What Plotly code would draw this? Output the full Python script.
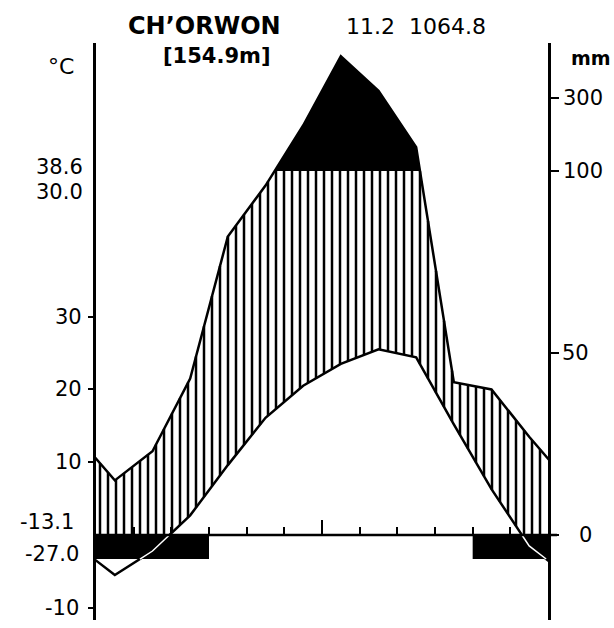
import numpy as np
import plotly.graph_objects as go

# ---------------- data ----------------
months = ["Jan", "Feb", "Mar", "Apr", "May", "Jun",
          "Jul", "Aug", "Sep", "Oct", "Nov", "Dec"]
temp_c = [-5.5, -2.2, 2.7, 9.6, 16.1, 20.5, 23.5, 25.5, 24.4, 15.2, 6.3, -1.5]
precip_mm = [15, 23, 43, 82, 96, 225, 415, 320, 165, 42, 40, 27]
frost_months = ["Jan", "Feb", "Mar", "Nov", "Dec"]
temp_ticks = [30, 20, 10, -10]
temp_tick_labels = ["30", "20", "10", "-10"]
precip_ticks = [0, 50, 100, 300]
precip_tick_labels = ["0", "50", "100", "300"]
station = "CH\u2019ORWON"
elevation = "[154.9m]"
mean_temp = "11.2"
annual_precip = "1064.8"
extremes_high = ["38.6", "30.0"]
extremes_low = ["-13.1", "-27.0"]

# ---------------- layout geometry / style ----------------
W, H = 614, 628
L_PX, R_PX, T_PX, B_PX = 96, 548, 43, 620
ZERO_PX = 535
PX_PER_UNIT = 3.64
YMAX = (ZERO_PX - T_PX) / PX_PER_UNIT
YMIN = -(B_PX - ZERO_PX) / PX_PER_UNIT
FROST_DEPTH = 6.6
HATCH_STEP = 8.0 / ((R_PX - L_PX) / 12.0)   # ~8 px between hatch lines
FONT = "DejaVu Sans"


def to_units(p):
    return p if p <= 100 else 100 + (p - 100) / 10.0


def px_x(px):
    return (px - L_PX) / (R_PX - L_PX)


def px_y(py):
    return (B_PX - py) / (B_PX - T_PX)


def clamp_line(xs, ys, lo=float("-inf"), hi=float("inf")):
    ox, oy = [], []
    for i in range(len(xs)):
        if i > 0:
            x0, y0, x1, y1 = xs[i - 1], ys[i - 1], xs[i], ys[i]
            cuts = []
            for b in (lo, hi):
                if y1 != y0 and abs(b) != float("inf"):
                    t = (b - y0) / (y1 - y0)
                    if 0 < t < 1:
                        cuts.append((t, b))
            for t, b in sorted(cuts):
                ox.append(x0 + t * (x1 - x0))
                oy.append(b)
        ox.append(xs[i])
        oy.append(min(max(ys[i], lo), hi))
    return ox, oy


def band_segments(xs, ys, lo, hi):
    ox, oy = [], []
    for i in range(len(xs)):
        if i > 0:
            x0, y0, x1, y1 = xs[i - 1], ys[i - 1], xs[i], ys[i]
            cuts = []
            for b in (lo, hi):
                if y1 != y0:
                    t = (b - y0) / (y1 - y0)
                    if 0 < t < 1:
                        cuts.append((t, b))
            for t, b in sorted(cuts):
                ox.append(x0 + t * (x1 - x0))
                oy.append(b)
        if lo <= ys[i] <= hi:
            ox.append(xs[i]); oy.append(ys[i])
        else:
            ox.append(None); oy.append(None)
    return ox, oy


n = len(months)
mx = [i + 0.5 for i in range(n)]
# wrap Dec before Jan and Jan after Dec so the curves reach both frames
xs = [mx[0] - 1] + mx + [mx[-1] + 1]
t_units = [2 * t for t in temp_c]
t_units = [t_units[-1]] + t_units + [t_units[0]]
p_units = [to_units(p) for p in precip_mm]
p_units = [p_units[-1]] + p_units + [p_units[0]]

fig = go.Figure()

# humid area: vertical hatch between max(temp,0) and min(precip,100)
lx, ly = clamp_line(xs, t_units, lo=0)
ux, uy = clamp_line(xs, p_units, hi=100)
hx, hy = [], []
for hxv in np.arange(HATCH_STEP / 2, n, HATCH_STEP):
    lo_v = float(np.interp(hxv, lx, ly))
    up_v = float(np.interp(hxv, ux, uy))
    if up_v > lo_v:
        hx += [hxv, hxv, None]
        hy += [lo_v, up_v, None]
fig.add_trace(go.Scatter(x=hx, y=hy, mode="lines", connectgaps=False,
                         line=dict(color="black", width=2.5),
                         hoverinfo="skip", showlegend=False))

# perhumid (black) area above 100 mm
fig.add_trace(go.Scatter(x=xs, y=[100] * len(xs), mode="lines", line=dict(width=0),
                         hoverinfo="skip", showlegend=False))
bx, by = clamp_line(xs, p_units, lo=100)
fig.add_trace(go.Scatter(x=bx, y=by, mode="lines", line=dict(width=0),
                         fill="tonexty", fillcolor="black",
                         hoverinfo="skip", showlegend=False))

# temperature curve
fig.add_trace(go.Scatter(x=xs, y=t_units, mode="lines",
                         line=dict(color="black", width=2.5),
                         hoverinfo="skip", showlegend=False))
wx, wy = band_segments(xs, t_units, -FROST_DEPTH, 0)
fig.add_trace(go.Scatter(x=wx, y=wy, mode="lines", connectgaps=False,
                         line=dict(color="white", width=1.5),
                         hoverinfo="skip", showlegend=False))

# precipitation curve (on right axis)
fig.add_trace(go.Scatter(x=xs, y=p_units, mode="lines", yaxis="y2",
                         line=dict(color="black", width=2.5),
                         hoverinfo="skip", showlegend=False))

# frost bars: merge consecutive frost months into one block
shapes = []
idx = sorted(months.index(m) for m in frost_months)
groups = []
for i in idx:
    if groups and groups[-1][1] == i:
        groups[-1][1] = i + 1
    else:
        groups.append([i, i + 1])
for a, b in groups:
    shapes.append(dict(type="rect", xref="x", yref="y", x0=a, x1=b,
                       y0=-FROST_DEPTH, y1=0, fillcolor="black",
                       line=dict(width=0), layer="below"))
shapes.append(dict(type="line", xref="paper", yref="y", x0=0, x1=px_x(557),
                   y0=0, y1=0, line=dict(color="black", width=2.5), layer="above"))

ann = []


def add_text(text, x, y, size, xanchor="center", bold=False, xref="paper", yref="paper"):
    ann.append(dict(text=("<b>%s</b>" % text) if bold else text,
                    x=x, y=y, xref=xref, yref=yref, xanchor=xanchor,
                    yanchor="middle", showarrow=False,
                    font=dict(family=FONT, size=size, color="black")))


add_text(station, px_x(204), px_y(26), 24, bold=True)
add_text(elevation, px_x(217), px_y(56), 21, bold=True)
add_text(mean_temp + "\u00a0\u00a0" + annual_precip, px_x(416), px_y(26), 22)
add_text("\u00b0C", px_x(61), px_y(66), 22)
add_text("mm", px_x(591), px_y(58), 19, bold=True)
add_text(extremes_high[0], px_x(85), px_y(167), 21, xanchor="right")
add_text(extremes_high[1], px_x(85), px_y(192), 21, xanchor="right")
add_text(extremes_low[0], px_x(76), px_y(522), 21, xanchor="right")
add_text(extremes_low[1], px_x(81), px_y(554), 21, xanchor="right")
for t, lab in zip(temp_ticks, temp_tick_labels):
    add_text(lab, px_x(84 if t > 0 else 81), 2 * t, 21, xanchor="right", yref="y")
right_left_edge = {"0": 577, "50": 560, "100": 561, "300": 561}
for p, lab in zip(precip_ticks, precip_tick_labels):
    add_text(lab, px_x(right_left_edge[lab]), to_units(p), 21, xanchor="left", yref="y")

fig.update_layout(
    width=W, height=H,
    margin=dict(l=L_PX, r=W - R_PX, t=T_PX, b=H - B_PX, autoexpand=False),
    paper_bgcolor="white", plot_bgcolor="white",
    shapes=shapes, annotations=ann, showlegend=False,
    xaxis=dict(range=[0, n], showgrid=False, zeroline=False, showline=False,
               anchor="free", position=(0 - YMIN) / (YMAX - YMIN),
               tickvals=[n / 2], ticks="inside", ticklen=15, tickwidth=2,
               tickcolor="black", showticklabels=False,
               minor=dict(tickvals=[k for k in range(1, n) if k != n / 2],
                          ticks="inside", ticklen=8, tickwidth=2, tickcolor="black")),
    yaxis=dict(range=[YMIN, YMAX], showgrid=False, zeroline=False, showline=True,
               linecolor="black", linewidth=2.5,
               tickvals=[2 * t for t in temp_ticks], ticks="outside", ticklen=5,
               tickwidth=2, tickcolor="black", showticklabels=False),
    yaxis2=dict(range=[YMIN, YMAX], overlaying="y", side="right", anchor="x",
                showgrid=False, zeroline=False, showline=True,
                linecolor="black", linewidth=2.5,
                tickvals=[to_units(p) for p in precip_ticks], ticks="outside",
                ticklen=8, tickwidth=2, tickcolor="black", showticklabels=False),
)

fig.write_html("out.html", config={"displayModeBar": False},
               post_script="document.body.style.margin='0';document.body.style.padding='0';")
